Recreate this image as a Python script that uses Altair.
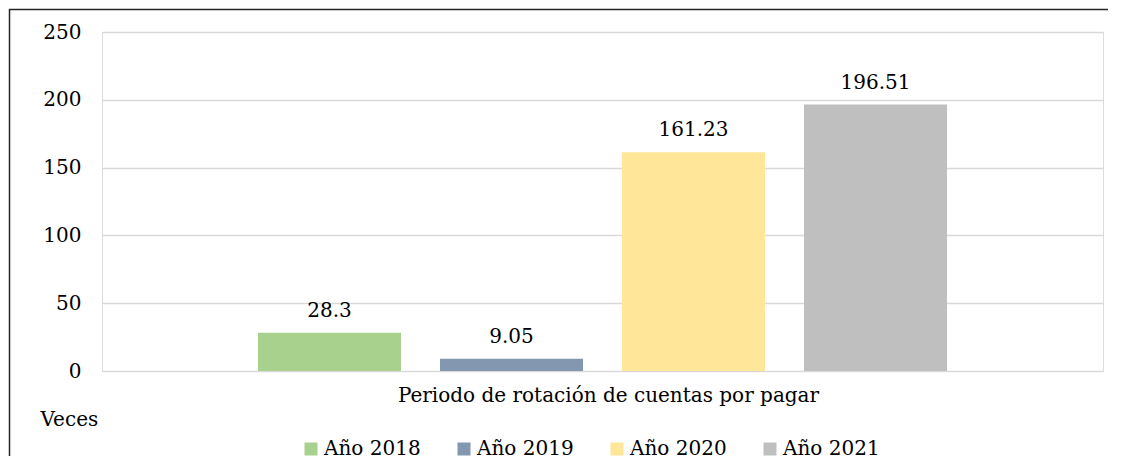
import altair as alt
import pandas as pd

years = ["Año 2018", "Año 2019", "Año 2020", "Año 2021"]
values = [28.3, 9.05, 161.23, 196.51]
labels = ["28.3", "9.05", "161.23", "196.51"]
colors = ["#A9D18E", "#8497B0", "#FFE699", "#BFBFBF"]
y_ticks = [0, 50, 100, 150, 200, 250]
category = "Periodo de rotación de cuentas por pagar"
y_title = "Veces"

FONT = "DejaVu Serif"
FS = 20

df = pd.DataFrame({"year": years, "value": values, "label": labels})

W, H = 1001, 339

xenc = alt.X(
    "year:N",
    sort=years,
    scale=alt.Scale(paddingInner=0.2143, paddingOuter=0.857),
    axis=alt.Axis(
        labels=False, ticks=False, domain=False, title=category,
        titlePadding=14, titleFontSize=FS, titleFont=FONT,
        titleFontWeight="normal", titleColor="black", titleX=506,
    ),
)
yenc = alt.Y(
    "value:Q",
    scale=alt.Scale(domain=[0, 250], nice=False),
    axis=alt.Axis(
        values=y_ticks, domain=False, ticks=False, labelFont=FONT,
        labelFontSize=FS, labelColor="black", labelPadding=21,
        gridColor="#D9D9D9", gridWidth=1.5, title=y_title, titleAngle=0,
        titleAlign="left", titleBaseline="alphabetic", titleX=-62, titleY=393,
        titleFont=FONT, titleFontSize=FS, titleFontWeight="normal", titleColor="black",
    ),
)

bars = alt.Chart(df).mark_bar().encode(
    x=xenc,
    y=yenc,
    color=alt.Color(
        "year:N",
        scale=alt.Scale(domain=years, range=colors),
        legend=alt.Legend(
            orient="none", legendX=199, legendY=407, direction="horizontal",
            columns=4, title=None, symbolType="square", symbolSize=169,
            symbolStrokeWidth=0, symbolOpacity=1, labelFont=FONT,
            labelFontSize=FS, labelColor="black", labelOffset=3,
            columnPadding=33, padding=0, rowPadding=0,
        ),
    ),
)

text = alt.Chart(df).mark_text(
    baseline="alphabetic", dy=-16, font=FONT, fontSize=FS, color="black"
).encode(x=alt.X("year:N", sort=years), y="value:Q", text="label:N")

frame = pd.DataFrame({"a": [0]})
left_rule = alt.Chart(frame).mark_rule(color="#262626", strokeWidth=1.5).encode(
    x=alt.value(-92.5), y=alt.value(-23), y2=alt.value(424)
)
top_rule = alt.Chart(frame).mark_rule(color="#262626", strokeWidth=1.5).encode(
    x=alt.value(-93), x2=alt.value(1006), y=alt.value(-22.5)
)

chart = (
    alt.layer(bars, text, left_rule, top_rule)
    .properties(width=W, height=H, padding=0)
    .configure_view(stroke=None)
    .configure(background="white")
)

chart.save("out.html", embed_options={"renderer": "svg", "actions": False})
